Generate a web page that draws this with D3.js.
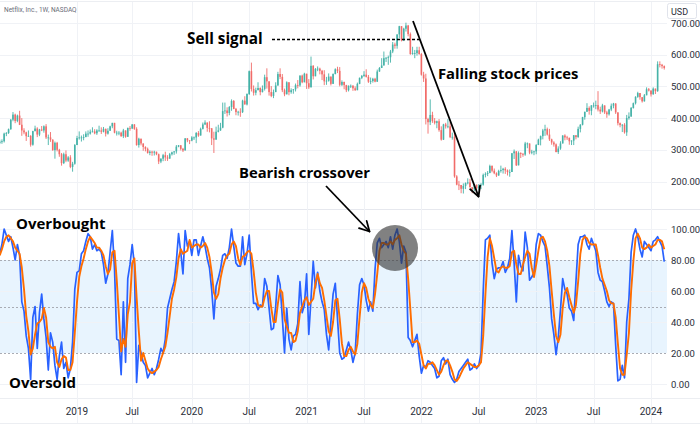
<!DOCTYPE html>
<html><head><meta charset="utf-8">
<script src="https://cdn.jsdelivr.net/npm/d3@7"></script>
<style>
html,body{margin:0;padding:0;background:#fff;}
svg{display:block;}
</style></head><body>
<svg id="chart" width="700" height="425"></svg>
<script>
// ---------------- DATA ----------------
const weekStart = "2018-05-07";   // first weekly bar (Monday)
const open0 = 321;
const closes = [
326,327,351,353,365,395,411,391,408,379,361,355,343,344,316,359,367,348,364,361,374,339,339,332,299,322,300,286,258,286,266,276,246,256,315,
337,339,339,340,351,351,357,358,352,361,361,357,366,351,360,374,385,354,354,354,343,361,341,369,367,380,366,315,335,320,309,303,290,294,291,294,286,263,272,283,276,272,286,292,295,310,314,303,298,336,330,329,
339,339,353,345,366,380,386,369,368,336,332,357,361,370,422,424,416,435,454,429,419,420,419,455,443,476,548,492,480,488,495,482,492,529,516,482,470,482,503,539,530,488,475,513,482,488,491,504,503,534,513,540,
510,497,565,532,555,556,549,538,516,518,531,508,539,554,549,505,514,504,488,502,502,494,488,508,527,533,537,530,515,517,524,515,547,558,566,589,590,592,610,632,628,664,690,645,682,692,665,602,605,605,614,602,
537,525,397,387,410,391,385,390,362,332,380,374,374,340,341,216,190,189,177,186,195,197,182,175,190,179,187,190,221,224,227,249,234,226,219,233,236,240,235,230,230,289,295,251,290,287,285,320,320,291,294,295,
315,332,343,361,365,348,333,323,317,293,304,320,345,339,338,327,329,346,340,366,379,403,420,432,423,440,440,441,427,421,440,418,412,427,439,446,418,384,378,379,355,400,405,432,447,467,479,466,453,472,491,487,
475,493,485,570,568,564,558];
const highs = [
332,333,354,356,367,397,419,414,411,423,400,368,357,361,346,360,376,371,366,375,377,381,348,356,333,326,325,303,290,291,298,280,283,262,318,
344,358,345,349,358,361,364,371,365,365,376,371,372,367,368,376,385,385,360,359,357,366,360,370,375,381,381,371,338,335,319,311,307,298,297,297,294,288,273,287,294,283,290,294,296,315,315,315,306,337,337,330,
343,342,356,359,370,386,393,385,390,366,357,373,379,385,449,449,434,438,459,457,432,423,431,458,469,478,550,575,503,496,513,497,503,537,557,511,501,490,513,546,557,539,493,516,512,494,491,509,520,535,537,543,
536,523,594,567,558,563,559,552,551,530,541,530,541,557,562,561,519,515,505,503,506,504,500,512,528,536,548,554,536,528,527,527,553,561,589,610,593,597,615,640,638,664,691,690,685,701,694,670,625,615,625,625,
605,546,540,401,459,420,400,392,397,374,382,385,397,388,354,358,220,202,186,194,197,210,208,181,192,190,192,195,225,229,233,253,251,241,229,237,250,243,245,238,238,290,301,296,295,292,290,325,323,320,300,297,
318,335,345,366,379,370,366,335,327,320,311,327,346,349,344,336,330,346,346,373,381,404,420,447,437,441,449,455,485,436,445,440,423,429,446,448,447,418,386,381,384,410,418,435,449,469,483,478,465,476,497,495,
485,497,492,579,579,571,566];
const lows = [
318,319,323,343,350,363,390,384,387,378,344,349,328,341,310,313,358,340,343,359,354,334,315,325,297,272,295,278,250,255,261,262,242,231,253,
315,332,326,330,340,341,348,355,349,347,357,350,355,342,348,360,368,352,345,346,341,337,338,343,360,366,363,313,307,314,297,295,288,283,281,282,283,255,258,264,265,265,272,282,284,288,308,298,293,298,324,318,
327,331,321,341,346,364,378,357,355,315,290,333,355,360,368,413,405,409,423,428,409,408,404,416,443,440,473,484,471,472,493,472,481,487,493,471,466,463,484,502,523,482,469,482,472,477,477,484,494,499,510,515,
492,492,497,522,532,548,538,520,504,505,515,503,515,538,542,500,501,491,482,484,495,486,486,488,507,523,530,528,511,507,512,513,514,546,558,576,577,568,575,605,619,619,652,642,643,673,658,600,600,589,597,600,
534,514,380,351,378,385,380,368,357,329,331,367,368,337,332,212,188,173,163,162,176,191,181,163,170,172,174,176,187,213,217,226,229,223,214,218,228,225,224,219,215,230,271,249,252,274,278,281,305,286,286,283,
286,315,314,333,344,345,328,316,310,292,287,300,321,330,331,316,315,315,333,338,355,377,395,420,411,409,433,428,421,413,418,413,401,408,422,431,413,377,371,356,351,344,395,404,430,443,464,458,449,452,474,484,
468,474,476,483,560,556,553];
const stochK = [84,
90,100,96,92,95,88,80,90,83,53,47,31,23,3,43,50,23,46,58,42,
30,9,33,27,12,3,18,27,10,14,4,10,27,61,72,73,84,86,92,97,
95,87,90,86,87,85,77,65,71,85,99,74,29,28,6,53,14,68,77,90,
77,1,25,20,14,12,4,7,10,6,10,16,23,20,29,49,55,61,66,79,
97,85,71,99,89,92,83,93,93,83,89,95,89,81,75,61,42,63,68,74,
83,84,81,88,100,89,78,76,76,95,77,84,96,72,52,52,48,51,50,68,
63,49,35,36,50,70,64,43,20,49,29,22,31,32,39,66,46,51,71,32,
55,79,62,72,60,53,48,32,22,
40,58,65,42,20,16,17,22,27,22,14,20,45,64,68,64,54,47,53,47,
74,91,94,88,90,92,88,95,87,96,100,92,78,89,85,30,28,24,28,32,
18,7,12,11,15,14,12,10,4,5,15,17,13,16,6,3,1,3,8,10,
12,14,16,9,10,13,10,12,20,60,93,94,96,78,68,74,75,75,79,72,
75,81,99,78,53,83,76,73,98,88,67,69,72,90,97,96,92,89,76,62,
42,32,19,30,48,68,61,58,49,47,41,66,90,95,95,96,90,87,94,90,
86,72,67,66,60,53,50,53,52,25,2,3,12,4,40,55,85,96,100,95,
87,82,92,90,88,86,92,93,95,92,89,79];
const stochD = [83,
87,92,95,96,94,92,88,86,84,75,61,44,34,19,23,32,39,40,42,49,
43,27,24,23,24,14,11,16,18,17,9,9,14,33,53,69,76,81,87,92,
95,93,91,88,88,86,83,76,71,74,85,86,67,44,21,29,24,45,53,78,
81,56,34,15,20,15,10,8,7,8,9,11,16,20,24,33,44,55,61,69,
81,87,84,85,86,93,88,89,90,90,88,89,91,88,82,72,59,55,58,68,
75,80,83,84,90,92,89,81,77,82,83,85,86,84,73,59,51,50,50,56,
60,60,49,40,40,52,61,59,42,37,33,33,27,28,34,46,50,54,56,51,
53,55,65,71,65,62,54,44,34,
31,40,54,55,42,26,18,18,22,24,21,19,26,43,59,65,62,55,51,49,
58,71,86,91,91,90,90,92,90,93,94,96,90,86,84,68,48,27,27,28,
26,19,12,10,13,13,14,12,9,6,8,12,15,15,12,8,3,2,4,7,
10,12,14,13,12,11,11,12,14,31,58,82,94,89,81,73,72,75,76,75,
75,76,85,86,77,71,71,77,82,86,84,75,69,77,86,94,95,92,86,76,
60,45,31,27,32,49,59,62,56,51,46,51,66,84,93,95,94,91,90,90,
90,83,75,68,64,60,54,52,52,43,26,10,6,6,19,33,60,79,94,97,
94,88,87,88,90,88,89,90,93,93,92,87];
const priceTicks = [200,300,400,500,600,700];
const stochTicks = [0,20,40,60,80,100];
const stochLevels = [20,50,80];
const timeTickDates = ["2019-01-07","2019-07-01","2020-01-06","2020-07-06","2021-01-04","2021-07-05","2022-01-03","2022-07-04","2023-01-02","2023-07-03","2024-01-01"];
const timeTickLabels = ["2019","Jul","2020","Jul","2021","Jul","2022","Jul","2023","Jul","2024"];

// ---------------- LAYOUT ----------------
const svg = d3.select("#chart");
const parse = d3.utcParse("%Y-%m-%d");
const start = parse(weekStart);
const dates = closes.map((_, i) => d3.utcDay.offset(start, 7 * i));
const plotR = 667;
const paneTop = {y0: 2, y1: 209};
const paneBot = {y0: 210, y1: 398};

const x = d3.scaleUtc().domain([parse("2019-01-07"), parse("2024-01-01")]).range([77, 651]);
const yP = d3.scaleLinear().domain([200, 700]).range([181.5, 23]);
const yS = d3.scaleLinear().domain([0, 100]).range([384, 229]);

const gridC = "#f0f2f6";
const defs = svg.append("defs");
defs.append("clipPath").attr("id","cTop").append("rect").attr("x",0).attr("y",paneTop.y0).attr("width",plotR).attr("height",paneTop.y1-paneTop.y0);
defs.append("clipPath").attr("id","cBot").append("rect").attr("x",0).attr("y",paneBot.y0).attr("width",plotR).attr("height",paneBot.y1-paneBot.y0);

// borders
svg.append("line").attr("x1",0).attr("x2",700).attr("y1",1.5).attr("y2",1.5).attr("stroke","#eceef2");
svg.append("line").attr("x1",0).attr("x2",700).attr("y1",209.5).attr("y2",209.5).attr("stroke","#e6e8ee");
svg.append("line").attr("x1",0).attr("x2",700).attr("y1",398.5).attr("y2",398.5).attr("stroke","#eceef2");
svg.append("line").attr("x1",0).attr("x2",700).attr("y1",423.5).attr("y2",423.5).attr("stroke","#eceef2");

// vertical grid
const tickDates = timeTickDates.map(parse);
svg.append("g").selectAll("line").data(tickDates).join("line")
  .attr("x1", d => Math.round(x(d))+0.5).attr("x2", d => Math.round(x(d))+0.5)
  .attr("y1", paneTop.y0).attr("y2", 423).attr("stroke", gridC);

// horizontal grid top
svg.append("g").selectAll("line").data(priceTicks).join("line")
  .attr("x1",0).attr("x2",plotR).attr("y1",d=>Math.round(yP(d))+0.5).attr("y2",d=>Math.round(yP(d))+0.5).attr("stroke",gridC);

// stoch band + grid
svg.append("rect").attr("x",0).attr("width",plotR).attr("y",yS(80)).attr("height",yS(20)-yS(80)).attr("fill","rgba(33,150,243,0.1)");
svg.append("g").selectAll("line").data(stochTicks.filter(v=>!stochLevels.includes(v))).join("line")
  .attr("x1",0).attr("x2",plotR).attr("y1",d=>Math.round(yS(d))+0.5).attr("y2",d=>Math.round(yS(d))+0.5).attr("stroke",gridC);
svg.append("g").selectAll("line").data(stochLevels).join("line")
  .attr("x1",0).attr("x2",plotR).attr("y1",d=>Math.round(yS(d))+0.5).attr("y2",d=>Math.round(yS(d))+0.5)
  .attr("stroke","#a9acb4").attr("stroke-dasharray","2,2");

// candles
const candles = closes.map((c,i)=>({d:dates[i], o: i===0?open0:closes[i-1], c, h:highs[i], l:lows[i]}));
const gC = svg.append("g").attr("clip-path","url(#cTop)").attr("opacity",0.85);
const up = "#26a69a", dn = "#ef5350";
gC.selectAll("line").data(candles).join("line")
  .attr("x1",d=>x(d.d)).attr("x2",d=>x(d.d))
  .attr("y1",d=>yP(Math.max(d.h,d.o,d.c))).attr("y2",d=>yP(Math.min(d.l,d.o,d.c)))
  .attr("stroke",d=>d.c>=d.o?up:dn).attr("stroke-width",0.9);
gC.selectAll("rect").data(candles).join("rect")
  .attr("x",d=>x(d.d)-0.8).attr("width",1.6)
  .attr("y",d=>yP(Math.max(d.o,d.c)))
  .attr("height",d=>Math.max(0.8, Math.abs(yP(d.o)-yP(d.c))))
  .attr("fill",d=>d.c>=d.o?up:dn);

// stochastic lines
const gS = svg.append("g").attr("clip-path","url(#cBot)");
const lineK = d3.line().x((v,i)=>x(dates[i])).y(v=>yS(v));
gS.append("path").attr("d",lineK(stochK)).attr("fill","none").attr("stroke","#2962ff").attr("stroke-width",1.7).attr("stroke-linejoin","round");
gS.append("path").attr("d",lineK(stochD)).attr("fill","none").attr("stroke","#ff6d00").attr("stroke-width",1.9).attr("stroke-linejoin","round");

// axes labels
const fAx = "Roboto, 'Liberation Sans', sans-serif";
svg.append("g").selectAll("text").data(priceTicks).join("text")
  .attr("x",671).attr("y",d=>yP(d)+3.5).text(d3.format(".2f"))
  .attr("font-family",fAx).attr("font-size",9.5).attr("fill","#2a2e39");
svg.append("g").selectAll("text").data(stochTicks).join("text")
  .attr("x",671).attr("y",d=>yS(d)+3.5).text(d3.format(".2f"))
  .attr("font-family",fAx).attr("font-size",9.5).attr("fill","#2a2e39");
svg.append("g").selectAll("text").data(tickDates).join("text")
  .attr("x",d=>x(d)).attr("y",415).attr("text-anchor","middle")
  .text((d,i)=>timeTickLabels[i])
  .attr("font-family",fAx).attr("font-size",10).attr("fill","#2a2e39");

// header
svg.append("text").attr("x",4).attr("y",12).text("Netflix, Inc., 1W, NASDAQ")
  .attr("font-family",fAx).attr("font-size",6.5).attr("fill","#6a6d78");
svg.append("rect").attr("x",667.5).attr("y",3.5).attr("width",29).attr("height",15).attr("rx",2)
  .attr("fill","#fff").attr("stroke","#e0e3eb");
svg.append("text").attr("x",671).attr("y",14.5).text("USD")
  .attr("font-family",fAx).attr("font-size",9).attr("fill","#2a2e39");

// ---------------- ANNOTATIONS ----------------
const fB = "'Open Sans', sans-serif";
svg.append("circle").attr("cx",395).attr("cy",248).attr("r",23).attr("fill","#333").attr("fill-opacity",0.62);

function ann(txt,xx,yy,fs){
  svg.append("text").attr("x",xx).attr("y",yy).text(txt)
    .attr("font-family",fB).attr("font-weight",700).attr("font-size",fs).attr("fill","#000");
}
ann("Sell signal",187,44,15.3);
ann("Falling stock prices",438,79,14.8);
ann("Bearish crossover",239,178,14.8);
ann("Overbought",16,229,15);
ann("Oversold",9,388,15);

svg.append("line").attr("x1",272).attr("x2",420).attr("y1",39.5).attr("y2",39.5)
  .attr("stroke","#000").attr("stroke-width",1.5).attr("stroke-dasharray","3,2");

function arrow(x1,y1,x2,y2,len){
  svg.append("line").attr("x1",x1).attr("y1",y1).attr("x2",x2).attr("y2",y2)
    .attr("stroke","#000").attr("stroke-width",1.8);
  const a = Math.atan2(y2-y1,x2-x1);
  [0.5,-0.5].forEach(s=>{
    svg.append("line").attr("x1",x2).attr("y1",y2)
      .attr("x2",x2-len*Math.cos(a+s)).attr("y2",y2-len*Math.sin(a+s))
      .attr("stroke","#000").attr("stroke-width",1.8).attr("stroke-linecap","round");
  });
}
arrow(413,21,478.5,196.5,11);
arrow(326,186,369.5,231.5,11);
</script>
</body></html>
